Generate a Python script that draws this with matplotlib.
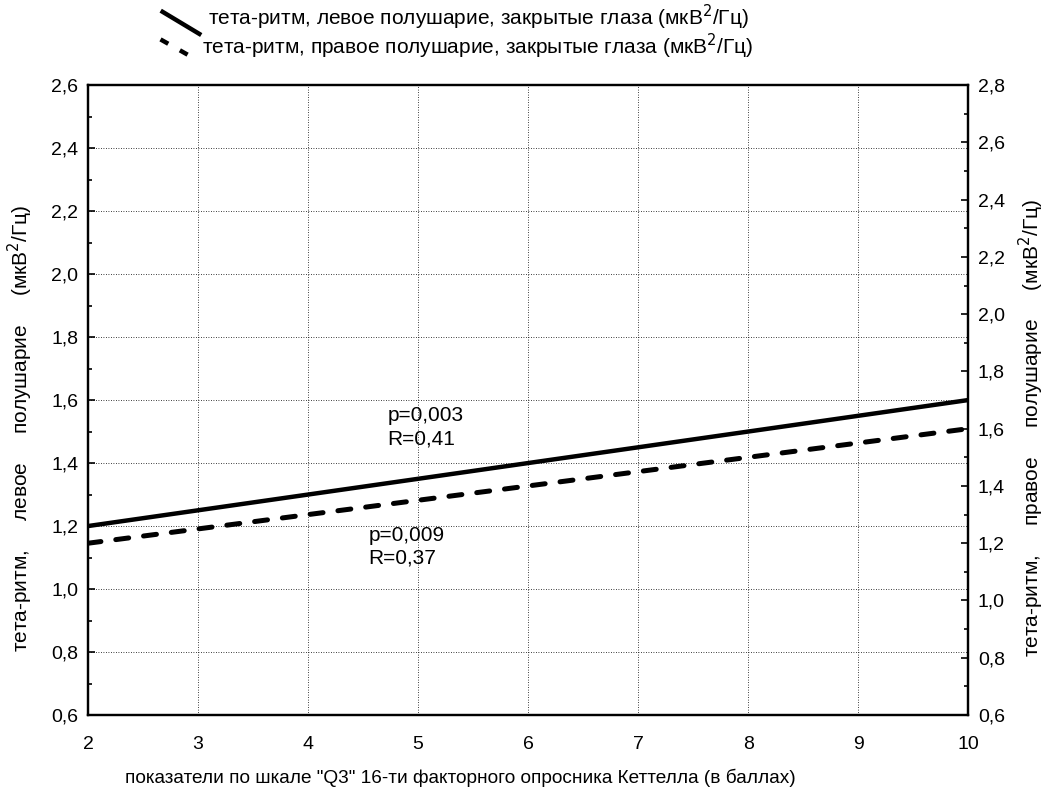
import matplotlib.pyplot as plt
from matplotlib.lines import Line2D

plt.rcParams['font.family'] = ['Liberation Sans', 'DejaVu Sans']

# data
x_scores = [2, 10]
left_theta = [1.2, 1.6]    # левое полушарие, левая ось
right_theta = [1.2, 1.6]   # правое полушарие, правая ось
x_ticks = [2, 3, 4, 5, 6, 7, 8, 9, 10]
left_ticks = [0.6, 0.8, 1.0, 1.2, 1.4, 1.6, 1.8, 2.0, 2.2, 2.4, 2.6]
right_ticks = [0.6, 0.8, 1.0, 1.2, 1.4, 1.6, 1.8, 2.0, 2.2, 2.4, 2.6, 2.8]

label_left = 'тета-ритм, левое полушарие, закрытые глаза (мкВ$^2$/Гц)'
label_right = 'тета-ритм, правое полушарие, закрытые глаза (мкВ$^2$/Гц)'


def comma(v):
    return ('%.1f' % v).replace('.', ',')


fig = plt.figure(figsize=(10.49, 7.88), dpi=100)
ax = fig.add_axes([0.0839, 0.0926, 0.839, 0.7994])
ax2 = ax.twinx()

ax.plot(x_scores, left_theta, color='black', lw=3.2, solid_capstyle='butt')
ax2.plot(x_scores, right_theta, color='black', lw=3.6, linestyle=(0, (2.6, 3.0)),
         dash_capstyle='round')

ax.set_xlim(2, 10)
ax.set_ylim(0.6, 2.6)
ax2.set_ylim(0.6, 2.8)

ax.set_xticks(x_ticks)
ax.set_xticklabels([str(v) for v in x_ticks], fontsize=14)
ax.set_yticks(left_ticks)
ax.set_yticklabels([comma(v) for v in left_ticks], fontsize=14)
ax.set_yticks([v + 0.1 for v in left_ticks[:-1]], minor=True)
ax2.set_yticks(right_ticks)
ax2.set_yticklabels([comma(v) for v in right_ticks], fontsize=14)
ax2.set_yticks([v + 0.1 for v in right_ticks[:-1]], minor=True)

ax.tick_params(axis='both', which='both', direction='in', length=5, width=1.2)
ax.tick_params(axis='y', which='major', pad=7)
ax.tick_params(axis='y', which='minor', length=3)
ax.tick_params(axis='x', length=0, pad=15)
ax2.tick_params(axis='y', which='both', direction='in', length=5, width=1.2)
ax2.tick_params(axis='y', which='major', pad=7)
ax2.tick_params(axis='y', which='minor', length=3)

ax.grid(True, color='black', linestyle=(0, (1, 2)), linewidth=0.6)

for a in (ax, ax2):
    for s in a.spines.values():
        s.set_linewidth(1.6)

ax.set_xlabel('показатели по шкале "Q3" 16-ти факторного опросника Кеттелла (в баллах)',
              fontsize=13.7)
ax.xaxis.set_label_coords(0.423, -0.085)
ax.set_ylabel('тета-ритм,     левое     полушарие     (мкВ$^2$/Гц)', fontsize=15)
ax.yaxis.set_label_coords(-0.06, 0.455)
ax2.set_ylabel('тета-ритм,     правое     полушарие     (мкВ$^2$/Гц)', fontsize=15)
ax2.yaxis.set_label_coords(1.055, 0.455)

ax.text(4.72, 1.514, 'p=0,003\nR=0,41', fontsize=15, va='center', ha='left',
        linespacing=1.25)
ax.text(4.55, 1.135, 'p=0,009\nR=0,37', fontsize=15, va='center', ha='left',
        linespacing=1.25)

# legend drawn like the original (diagonal line samples)
fig.add_artist(Line2D([0.155, 0.19], [0.985, 0.957], color='black', lw=3.2,
                      transform=fig.transFigure))
fig.add_artist(Line2D([0.153, 0.185], [0.950, 0.926], color='black', lw=3.2,
                      linestyle=(0, (2, 3)), transform=fig.transFigure))
fig.text(0.198, 0.978, label_left, fontsize=15, va='center', ha='left')
fig.text(0.193, 0.941, label_right, fontsize=15, va='center', ha='left')

fig.savefig('out.png', dpi=100)
